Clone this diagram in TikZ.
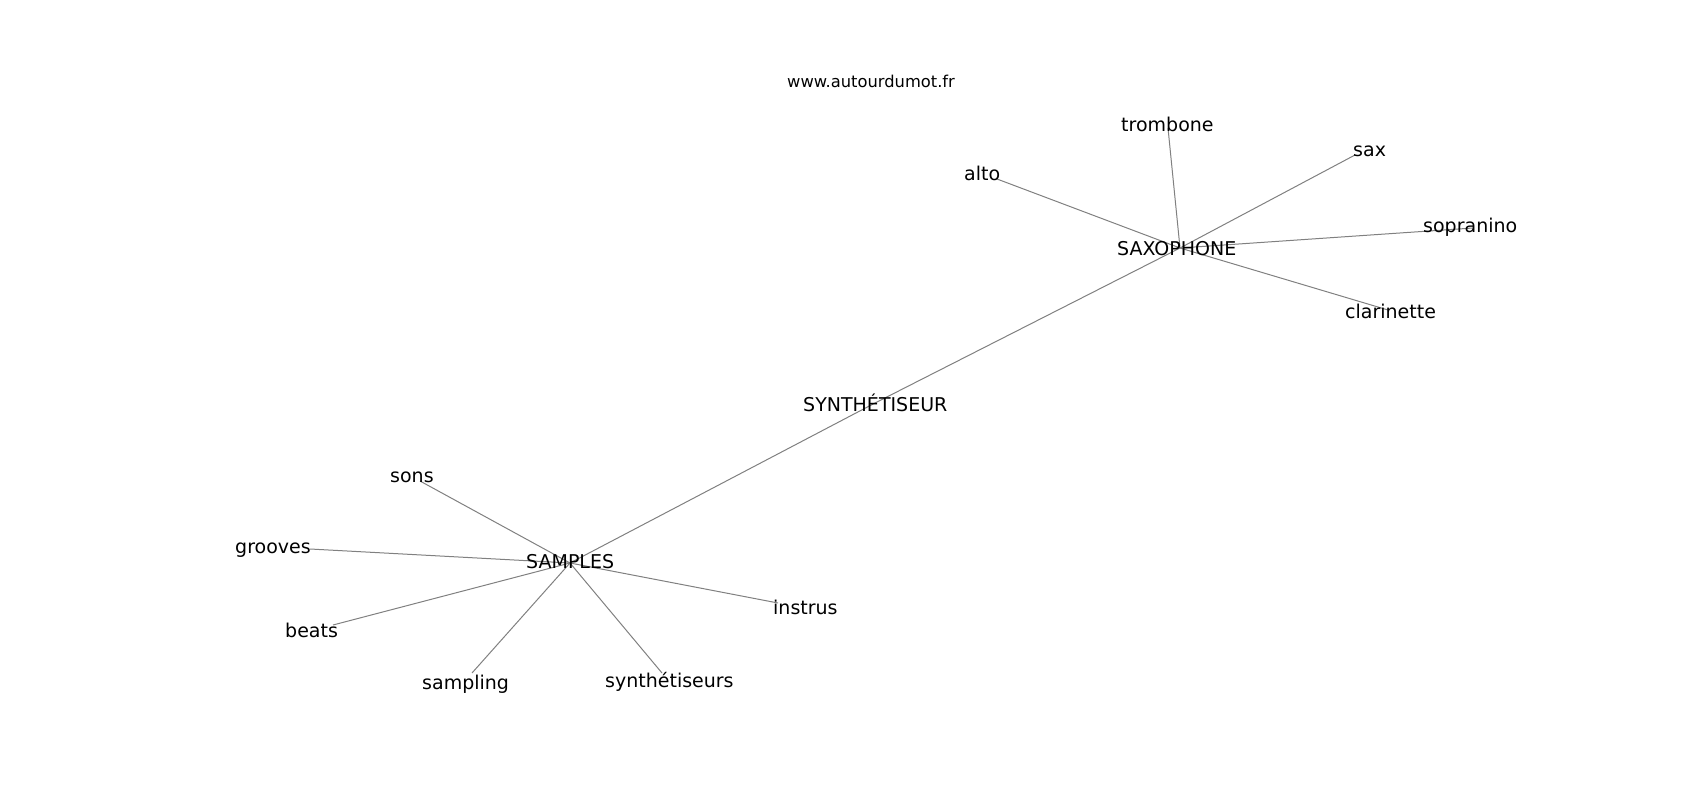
\documentclass[tikz,border=0pt]{standalone}
\usepackage{fontspec}
\usepackage{xcolor}
\usepackage{tikz}
\setmainfont{DejaVu Sans}
\definecolor{edgegray}{RGB}{128, 128, 128}

\tikzset{
  word/.style={anchor=base west, inner sep=0pt, font=\fontsize{19}{22}\selectfont},
  site/.style={anchor=base west, inner sep=0pt, font=\fontsize{16.3}{19}\selectfont},
  link/.style={edgegray, line width=1pt}
}

\begin{document}
\begin{tikzpicture}[x=1pt,y=-1pt]
\useasboundingbox (0,0) rectangle (1700,800);

% graph vertices
\coordinate (v-saxophone) at (1180,248);
\coordinate (v-synth) at (875,403);
\coordinate (v-samples) at (570,563);
\coordinate (v-trombone) at (1168,128);
\coordinate (v-alto) at (997,179);
\coordinate (v-sax) at (1355,155);
\coordinate (v-sopranino) at (1473,228);
\coordinate (v-clarinette) at (1388,310);
\coordinate (v-sons) at (420,481);
\coordinate (v-grooves) at (310,549);
\coordinate (v-beats) at (333,625);
\coordinate (v-sampling) at (472,673);
\coordinate (v-synths) at (662,673);
\coordinate (v-instrus) at (778,603);

% edges
\draw[link] (v-samples) -- (v-synth);
\draw[link] (v-synth) -- (v-saxophone);
\foreach \w in {trombone,alto,sax,sopranino,clarinette}
    \draw[link] (v-saxophone) -- (v-\w);
\foreach \w in {sons,grooves,beats,sampling,synths,instrus}
    \draw[link] (v-samples) -- (v-\w);

% labels
\node[site] (site) at (787,88) {www.autourdumot.fr};
\node[word] (saxophone) at (1117,255) {SAXOPHONE};
\node[word] (synth) at (803,411) {SYNTHÉTISEUR};
\node[word] (samples) at (526,568) {SAMPLES};
\node[word] (trombone) at (1121,131) {trombone};
\node[word] (alto) at (964,180) {alto};
\node[word] (sax) at (1353,156) {sax};
\node[word] (sopranino) at (1423,232) {sopranino};
\node[word] (clarinette) at (1345,318) {clarinette};
\node[word] (sons) at (390,482) {sons};
\node[word] (grooves) at (235,553) {grooves};
\node[word] (beats) at (285,637) {beats};
\node[word] (sampling) at (422,689) {sampling};
\node[word] (synths) at (605,687) {synthétiseurs};
\node[word] (instrus) at (773,614) {instrus};
\end{tikzpicture}
\end{document}
